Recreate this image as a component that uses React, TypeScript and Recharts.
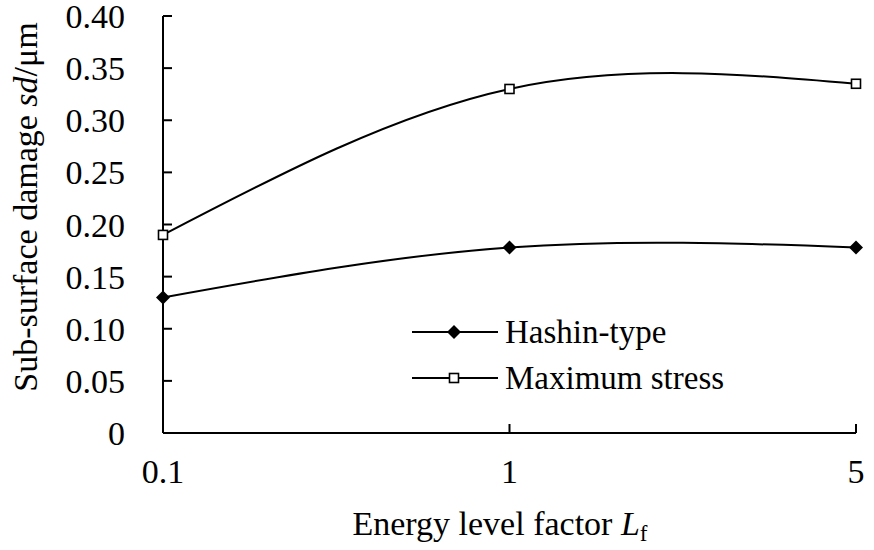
import { LineChart, Line, XAxis, YAxis } from "recharts";

const categories = ["0.1", "1", "5"];
const hashinType = [0.13, 0.178, 0.178];
const maximumStress = [0.19, 0.33, 0.335];
const yTicks = [0, 0.05, 0.1, 0.15, 0.2, 0.25, 0.3, 0.35, 0.4];
const seriesNames = ["Hashin-type", "Maximum stress"];

const data = categories.map((c, i) => ({
  factor: c,
  hashin: hashinType[i],
  maxStress: maximumStress[i],
}));

const FONT = "Liberation Serif, Times New Roman, serif";
const FS = 34;

function Diamond({ cx, cy }: any) {
  if (cx == null || cy == null) return null;
  const r = 7;
  return <path d={`M${cx},${cy - r}L${cx + r},${cy}L${cx},${cy + r}L${cx - r},${cy}Z`} fill="#000" />;
}

function Square({ cx, cy }: any) {
  if (cx == null || cy == null) return null;
  const s = 9;
  return <rect x={cx - s / 2} y={cy - s / 2} width={s} height={s} fill="#fff" stroke="#000" strokeWidth={1.6} />;
}

function fmtY(v: number) {
  return v === 0 ? "0" : v.toFixed(2);
}

function LegendBox() {
  const markers = [Diamond, Square];
  return (
    <div
      style={{
        position: "absolute",
        left: 410,
        top: 309,
        fontFamily: FONT,
        fontSize: 33,
        color: "#000",
        lineHeight: "46px",
      }}
    >
      {seriesNames.map((name, i) => {
        const Marker = markers[i];
        return (
          <div key={name} style={{ display: "flex", alignItems: "center", height: 46 }}>
            <svg width={92} height={20} style={{ marginRight: 3 }}>
              <line x1={2} y1={10} x2={88} y2={10} stroke="#000" strokeWidth={2} />
              <Marker cx={44} cy={10} />
            </svg>
            <span>{name}</span>
          </div>
        );
      })}
    </div>
  );
}

export default function App() {
  return (
    <div style={{ position: "absolute", left: 0, top: 0, width: 874, height: 550, background: "#fff" }}>
      <LineChart
        width={874}
        height={550}
        data={data}
        margin={{ top: 16, right: 18, left: 0, bottom: 0 }}
      >
        <XAxis
          dataKey="factor"
          height={117}
          interval={0}
          axisLine={{ stroke: "#000", strokeWidth: 2 }}
          tickLine={{ stroke: "#000", strokeWidth: 2 }}
          tickSize={-9}
          tickMargin={35}
          tick={{ fill: "#000", fontSize: FS, fontFamily: FONT }}
          label={() => (
            <text x={500} y={535} textAnchor="middle" fontFamily={FONT} fontSize={FS} fill="#000">
              Energy level factor <tspan fontStyle="italic">L</tspan>
              <tspan fontSize={23} dy={6}>f</tspan>
            </text>
          )}
        />
        <YAxis
          width={163}
          domain={[0, 0.4]}
          ticks={yTicks}
          interval={0}
          tickFormatter={fmtY}
          axisLine={{ stroke: "#000", strokeWidth: 2 }}
          tickLine={{ stroke: "#000", strokeWidth: 2 }}
          tickSize={-9}
          tickMargin={47}
          tick={{ fill: "#000", fontSize: FS, fontFamily: FONT }}
          label={() => (
            <text
              x={25}
              y={207}
              transform="rotate(-90, 25, 207)"
              textAnchor="middle"
              dominantBaseline="central"
              fontFamily={FONT}
              fontSize={FS}
              fill="#000"
            >
              Sub-surface damage <tspan fontStyle="italic">sd</tspan>/μm
            </text>
          )}
        />
        <Line
          type="natural"
          dataKey="hashin"
          name={seriesNames[0]}
          stroke="#000"
          strokeWidth={2}
          dot={<Diamond />}
          activeDot={false}
          isAnimationActive={false}
        />
        <Line
          type="natural"
          dataKey="maxStress"
          name={seriesNames[1]}
          stroke="#000"
          strokeWidth={2}
          dot={<Square />}
          activeDot={false}
          isAnimationActive={false}
        />
      </LineChart>
      <LegendBox />
    </div>
  );
}
